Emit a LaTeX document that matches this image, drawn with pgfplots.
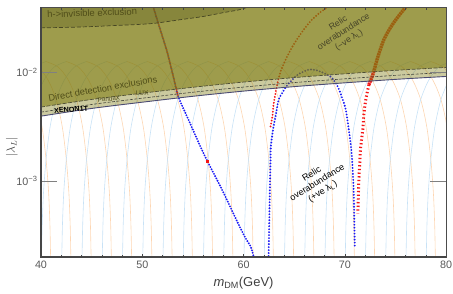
\documentclass[border=0pt]{standalone}
\usepackage{fontspec}
\setmainfont{Liberation Sans}
\usepackage{pgfplots}
\pgfplotsset{compat=1.18}
\usepackage{pgfplotstable}

\definecolor{olv}{RGB}{126,123,16}
\definecolor{olvdark}{RGB}{90,90,30}
\definecolor{lblue}{RGB}{200,226,246}
\definecolor{lorange}{RGB}{253,214,178}
\definecolor{ptblue}{RGB}{25,25,245}
\definecolor{ptred}{RGB}{245,20,20}
\definecolor{txtol}{RGB}{80,78,25}
\definecolor{txtrel}{RGB}{70,68,40}
\definecolor{framegray}{RGB}{70,70,70}
\definecolor{xenline}{RGB}{75,75,115}
\definecolor{midline}{RGB}{70,70,60}
\definecolor{topline}{RGB}{80,80,55}
\definecolor{hline}{RGB}{70,70,35}

% one arc of the background mesh (offset from its centre, |lambda_L|)
\pgfplotstableread{
dx lam
-4.5 1.5e-4
-4.45 2.0e-4
-4.38 4.0e-4
-4.25 7.9e-4
-4.0 1.58e-3
-3.6 3.16e-3
-3.0 5.62e-3
-2.2 8.5e-3
-1.2 1.12e-2
0 1.26e-2
}\arcL
\pgfplotstableread{
dx lam
0 1.26e-2
1.2 1.12e-2
2.2 8.5e-3
3.0 5.62e-3
3.6 3.16e-3
4.0 1.58e-3
4.25 7.9e-4
4.38 4.0e-4
4.45 2.0e-4
4.5 1.5e-4
}\arcR

\begin{document}
\begin{tikzpicture}
\begin{axis}[
  name=ax,
  scale only axis, width=405bp, height=250bp,
  ymode=log, xmin=40, xmax=80, ymin=2e-4, ymax=0.04,
  xtick={40,50,60,70,80}, xticklabels={40,50,60,70,80},
  minor xtick={42,44,46,48,52,54,56,58,62,64,66,68,72,74,76,78},
  ytick=\empty,
  extra y ticks={1e-3,1e-2},
  extra y tick labels={10\textsuperscript{−3},10\textsuperscript{−2}},
  extra y tick style={major tick length=16bp, tick style={line width=1pt, color=gray}},
  minor ytick={3e-4,4e-4,5e-4,6e-4,7e-4,8e-4,9e-4,2e-3,3e-3,4e-3,5e-3,6e-3,7e-3,8e-3,9e-3,2e-2,3e-2,4e-2},
  major tick length=3bp, minor tick length=2.5bp,
  tick style={color=framegray, line width=0.5pt},
  tick label style={font=\fontsize{10.8}{12}\selectfont, text=gray!70!black},
  axis line style={draw=gray!60!black, line width=0.5pt},
  xlabel={\textit{m}\textsubscript{DM}(GeV)},
  xlabel style={at={(axis description cs:0.5,-0.104)}, anchor=center, font=\fontsize{13}{15}\selectfont, text=gray!50!black},
  ylabel={$|\lambda_L|$},
  ylabel style={at={(axis description cs:-0.072,0.44)}, anchor=center, font=\fontsize{12}{14}\selectfont, text=gray!50!black},
  axis on top,
]

% background mesh
\pgfplotsinvokeforeach{34.5,36.5,...,84.5}{
  \addplot[no marks, color=lblue, line width=0.6pt, smooth] table[x expr=\thisrow{dx}+#1, y=lam]{\arcL};
  \addplot[no marks, color=lorange, line width=0.6pt, smooth] table[x expr=\thisrow{dx}+#1, y=lam]{\arcR};
}

% left relic line (blue, +ve)
\addplot[ptblue, line width=2.1pt, line cap=round, dash pattern=on 0pt off 2.6pt, smooth, tension=0.4] coordinates {
(50.95,0.045) (51.09,0.040) (51.78,0.0247) (52.48,0.0152) (53.07,9.14e-3) (53.56,5.98e-3)
(54.6,3.61e-3) (55.74,2.08e-3) (56.44,1.52e-3) (57.72,8.93e-4) (58.71,5.74e-4)
(59.50,4.01e-4) (60.20,2.98e-4) (60.69,2.52e-4) (60.99,2.04e-4) (61.05,1.9e-4)
};
% left relic line (red, -ve)
\addplot[ptred, line width=2.1pt, line cap=round, dash pattern=on 0pt off 2.6pt, dash phase=1.3pt, smooth, tension=0.4] coordinates {
(50.95,0.045) (51.09,0.040) (51.78,0.0247) (52.48,0.0152) (53.07,9.14e-3) (53.56,5.98e-3)
};
\addplot[only marks, mark=square*, mark size=1.1pt, color=ptred] coordinates {(56.44,1.52e-3)};

% blue arc (+ve)
\addplot[ptblue, line width=2.1pt, line cap=round, dash pattern=on 0pt off 3pt, smooth, tension=0.4] coordinates {
(62.48,2.04e-4) (62.6,8.0e-4) (62.67,1.55e-3) (62.70,2.08e-3) (62.97,3.18e-3) (63.17,3.93e-3)
(63.47,5.62e-3) (63.86,6.52e-3) (64.36,7.71e-3) (65.35,9.53e-3) (66.44,0.0106) (67.33,0.0104)
(68.61,9.14e-3) (69.31,7.40e-3) (69.80,5.62e-3) (70.10,4.55e-3) (70.40,2.98e-3) (70.59,2.17e-3)
(70.69,1.76e-3) (70.79,1.23e-3) (70.89,7.55e-4) (70.99,2.52e-4)
};
% red left cluster (-ve)
\addplot[ptred, line width=2.1pt, line cap=round, dash pattern=on 0pt off 3pt, smooth, tension=0.4] coordinates {
(62.67,3.18e-3) (62.87,4.01e-3) (62.97,5.06e-3) (63.17,6.52e-3) (63.37,8.05e-3) (63.66,0.01014)
(64.06,0.01253) (64.65,0.01615) (65.25,0.01995) (65.94,0.0247) (66.73,0.0304) (67.62,0.0360)
(68.32,0.0401) (68.7,0.045)
};
% red right branch (-ve), dense upper part
\addplot[ptred, line width=3.4pt, dash pattern=on 2pt off 0.6pt, smooth, tension=0.4] coordinates {
(76.5,0.046) (76.04,0.0401) (75.25,0.0324) (74.55,0.0262) (73.86,0.0200) (73.27,0.0139)
(72.77,9.53e-3) (72.38,7.71e-3)
};
% red right branch (-ve), sparser lower part
\addplot[ptred, line width=3pt, dash pattern=on 1.3pt off 2.4pt, smooth, tension=0.4] coordinates {
(72.38,7.71e-3) (72.08,5.62e-3) (71.88,4.09e-3) (71.78,2.98e-3)
(71.58,2.08e-3) (71.49,1.52e-3) (71.39,9.93e-4) (71.29,5.05e-4)
};

% direct detection exclusion: light band (from XENON1T line up)
\addplot[draw=none, fill=olv, fill opacity=0.40] coordinates {
(40,3.96e-3) (45,4.66e-3) (50,5.32e-3) (55,6.03e-3) (60,6.73e-3) (65,7.40e-3)
(70,8.02e-3) (75,8.63e-3) (80,9.18e-3) (80,0.06) (40,0.06)
};
% main direct detection region
\addplot[draw=none, fill=olv, fill opacity=0.58] coordinates {
(40,4.80e-3) (45,5.64e-3) (50,6.44e-3) (55,7.30e-3) (60,8.15e-3) (65,8.96e-3)
(70,9.71e-3) (75,10.45e-3) (80,11.12e-3) (80,0.06) (40,0.06)
};
% h -> invisible region
\addplot[draw=none, fill=olvdark, fill opacity=0.33] coordinates {
(40,0.0257) (44,0.0262) (48,0.0272) (51,0.0282) (54,0.0308) (56,0.0327) (58,0.0355)
(59.5,0.0376) (60.5,0.0401) (61,0.0417) (61,0.06) (40,0.06)
};

% boundary lines
\addplot[no marks, draw=xenline, line width=0.9pt, smooth] coordinates {
(40,3.96e-3) (45,4.66e-3) (50,5.32e-3) (55,6.03e-3) (60,6.73e-3) (65,7.40e-3)
(70,8.02e-3) (75,8.63e-3) (80,9.18e-3)
};
\addplot[no marks, draw=midline, line width=0.6pt, dash pattern=on 3pt off 1.5pt, smooth] coordinates {
(40,4.31e-3) (45,5.07e-3) (50,5.79e-3) (55,6.57e-3) (60,7.33e-3) (65,8.06e-3)
(70,8.73e-3) (75,9.40e-3) (80,10.0e-3)
};
\addplot[no marks, draw=topline, line width=0.7pt, dash pattern=on 4pt off 1.5pt, smooth] coordinates {
(40,4.80e-3) (45,5.64e-3) (50,6.44e-3) (55,7.30e-3) (60,8.15e-3) (65,8.96e-3)
(70,9.71e-3) (75,10.45e-3) (80,11.12e-3)
};
\addplot[no marks, draw=hline, line width=0.7pt, dash pattern=on 4pt off 2pt, smooth] coordinates {
(40,0.0257) (44,0.0262) (48,0.0272) (51,0.0282) (54,0.0308) (56,0.0327) (58,0.0355)
(59.5,0.0376) (60.5,0.0401) (61,0.0417)
};

% labels
\node[rotate=2, text=txtol, font=\fontsize{9.5}{11}\selectfont] at (axis cs:45.05,0.0353) {h-{}>invisible exclusion};
\node[rotate=10, text=txtol, font=\fontsize{9.3}{11}\selectfont] at (axis cs:46.1,7.1e-3) {Direct detection exclusions};
\node[rotate=5, text=txtol, font=\fontsize{6.3}{7}\selectfont] at (axis cs:46.7,5.70e-3) {PandaX};
\node[rotate=5, text=txtol, font=\fontsize{6.6}{7}\selectfont] at (axis cs:50.0,6.45e-3) {LUX};
\node[rotate=4, text=black, font=\fontsize{7.2}{8}\selectfont\bfseries] at (axis cs:42.97,4.55e-3) {XENON1T};
\node[rotate=33, text=txtrel, align=center, font=\fontsize{8.8}{10}\selectfont] at (axis cs:69.9,0.0236) {Relic\\overabundance\\(−ve λ\textsubscript{L})};
\node[rotate=32, text=black, align=center, font=\fontsize{9.1}{10.4}\selectfont] at (axis cs:67.3,9.6e-4) {Relic\\overabundance\\(+ve λ\textsubscript{L})};
\end{axis}
\draw[framegray, line width=1.6pt] (ax.north west) -- (ax.south west) -- (ax.south east);
\pgfresetboundingbox
\path ([shift={(-41bp,-36bp)}]ax.south west) rectangle ([shift={(7bp,7bp)}]ax.north east);
\end{tikzpicture}
\end{document}
